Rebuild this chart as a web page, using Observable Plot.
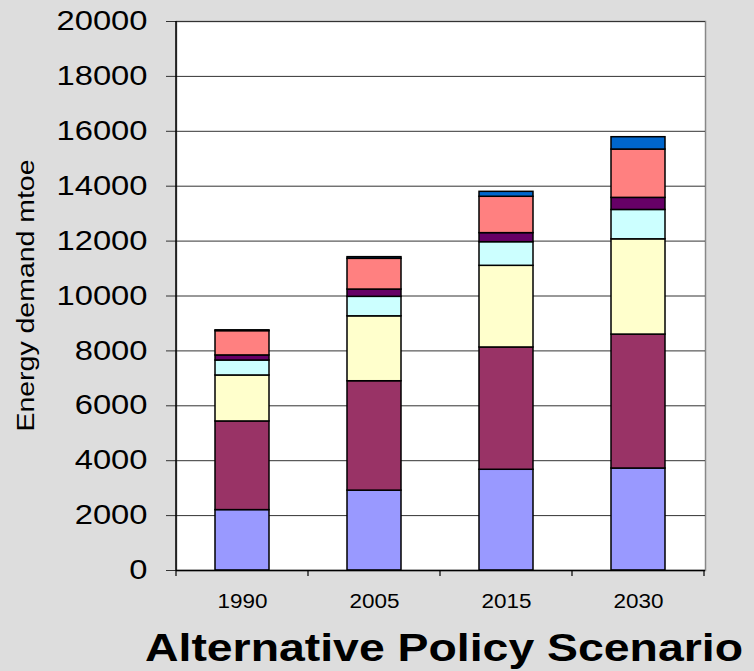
<!DOCTYPE html>
<html>
<head>
<meta charset="utf-8">
<script src="https://cdn.jsdelivr.net/npm/d3@7"></script>
<script src="https://cdn.jsdelivr.net/npm/@observablehq/plot@0.6"></script>
<style>
  html, body { margin: 0; padding: 0; background: #dddddd; }
  #chart { width: 754px; height: 671px; position: relative; background: #dddddd; }
  svg { font-family: "Liberation Sans", Arial, sans-serif; }
</style>
</head>
<body>
<div id="chart"></div>
<script>
// World primary energy demand by fuel (Mtoe), stacked per year
const years = ["1990", "2005", "2015", "2030"];
const fuels = ["Coal", "Oil", "Gas", "Nuclear", "Hydro", "Biomass", "Other renewables"];
const coal = [2200, 2910, 3670, 3715];
const oil = [3230, 3985, 4455, 4880];
const gas = [1675, 2365, 2975, 3470];
const nuclear = [545, 710, 860, 1070];
const hydro = [185, 265, 330, 440];
const biomass = [885, 1120, 1325, 1760];
const otherRenewables = [30, 60, 180, 450];
const fuelColors = ["#9999ff", "#993366", "#ffffcc", "#ccffff", "#660066", "#ff8080", "#0066cc"];
const yTicks = d3.range(0, 20001, 2000);

const series = [coal, oil, gas, nuclear, hydro, biomass, otherRenewables];
const rows = [];
years.forEach((year, i) => {
  fuels.forEach((fuel, k) => rows.push({year, fuel, value: series[k][i]}));
});

const chart = Plot.plot({
  width: 754,
  height: 620,
  marginLeft: 176,
  marginRight: 49,
  marginTop: 21,
  marginBottom: 50,
  style: {background: "transparent", color: "black"},
  x: {domain: years, paddingInner: 0.59, paddingOuter: 0.295, label: null},
  y: {domain: [0, 20000], label: null},
  color: {domain: fuels, range: fuelColors},
  marks: [
    Plot.frame({fill: "white", stroke: "#888888", strokeWidth: 1.5}),
    Plot.gridY(yTicks, {stroke: "#333333", strokeOpacity: 1, strokeWidth: 1}),
    Plot.axisY(yTicks, {tickSize: 10, tickPadding: 19, fontSize: 27, stroke: "#333", tickFormat: d => String(d), label: null}),
    Plot.axisX({tickSize: 0, tickPadding: 23, fontSize: 20, label: null}),
    Plot.barY(rows, {
      x: "year", y: "value", fill: "fuel", z: "fuel",
      stroke: "black", strokeWidth: 1.5
    }),
    Plot.ruleY([0], {stroke: "black", strokeWidth: 1.5})
  ]
});

// Wide glyphs for the tick labels
chart.querySelectorAll('[aria-label="y-axis tick label"] text').forEach(t => {
  t.setAttribute("textLength", t.textContent.length * 18.2);
  t.setAttribute("lengthAdjust", "spacingAndGlyphs");
});
chart.querySelectorAll('[aria-label="x-axis tick label"] text').forEach(t => {
  t.setAttribute("textLength", 50);
  t.setAttribute("lengthAdjust", "spacingAndGlyphs");
});

// Left axis line and category-boundary ticks below the x axis
const sx = chart.scale("x");
const sy = chart.scale("y");
const svg = d3.select(chart);
const y0 = sy.apply(0), y1 = sy.apply(20000);
const gap = (sx.step - sx.bandwidth) / 2;
const left = sx.apply(years[0]) - gap;
svg.append("line")
  .attr("x1", left).attr("x2", left)
  .attr("y1", y1).attr("y2", y0)
  .attr("stroke", "black").attr("stroke-width", 1.5);
const bounds = years.map(d => sx.apply(d) - gap).concat([sx.apply(years[years.length - 1]) + sx.bandwidth + gap]);
svg.append("g").selectAll("line").data(bounds).join("line")
  .attr("x1", d => d).attr("x2", d => d)
  .attr("y1", y0).attr("y2", y0 + 6)
  .attr("stroke", "black").attr("stroke-width", 1.2);

// Y axis title
svg.append("text")
  .attr("transform", `translate(34,${(y0 + y1) / 2}) rotate(-90)`)
  .attr("text-anchor", "middle")
  .attr("font-size", 23)
  .attr("textLength", 272)
  .attr("lengthAdjust", "spacingAndGlyphs")
  .attr("fill", "black")
  .text("Energy demand mtoe");

const container = document.getElementById("chart");
container.appendChild(chart);

// Scenario title below the chart
const title = d3.create("svg")
  .attr("width", 754).attr("height", 51)
  .style("display", "block");
title.append("text")
  .attr("x", 145).attr("y", 41)
  .attr("font-size", 39)
  .attr("font-weight", "bold")
  .attr("textLength", 598)
  .attr("lengthAdjust", "spacingAndGlyphs")
  .attr("fill", "black")
  .text("Alternative Policy Scenario");
container.appendChild(title.node());
</script>
</body>
</html>
